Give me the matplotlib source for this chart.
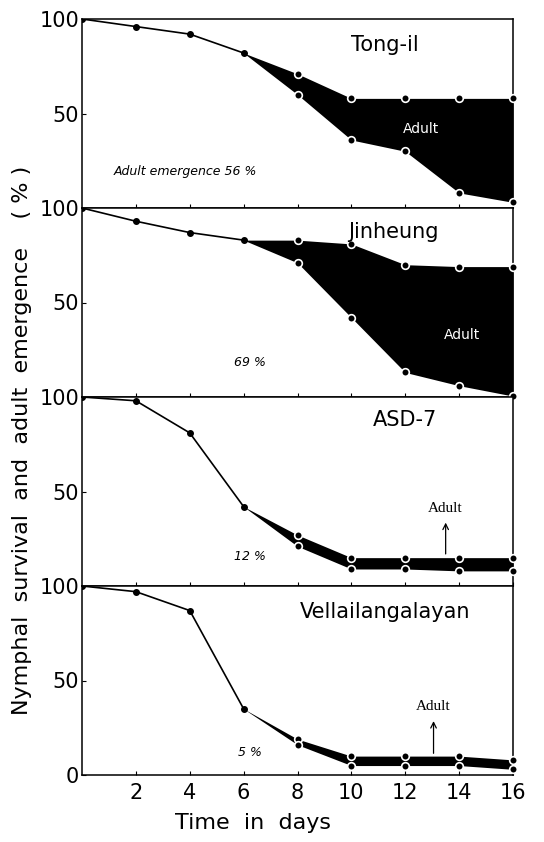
import numpy as np
from matplotlib import pyplot as plt

days = [0, 2, 4, 6, 8, 10, 12, 14, 16]
adult_days = [6, 8, 10, 12, 14, 16]

# survival (upper line) and remaining nymphs (lower line) per variety
tong_total = [100, 96, 92, 82, 71, 58, 58, 58, 58]
tong_nymph = [82, 60, 36, 30, 8, 3]

jin_total = [100, 93, 87, 83, 83, 81, 70, 69, 69]
jin_nymph = [83, 71, 42, 13, 6, 0.5]

asd_total = [100, 98, 81, 42, 27, 15, 15, 15, 15]
asd_nymph = [42, 21, 9, 9, 8, 8]

vel_total = [100, 97, 87, 35, 19, 10, 10, 10, 8]
vel_nymph = [35, 16, 5, 5, 5, 3]

names = ['Tong-il', 'Jinheung', 'ASD-7', 'Vellailangalayan']
emergence = ['Adult emergence 56 %', '69 %', '12 %', '5 %']
totals = [tong_total, jin_total, asd_total, vel_total]
nymphs = [tong_nymph, jin_nymph, asd_nymph, vel_nymph]

fig = plt.figure(figsize=(5.44, 8.42), dpi=100)

left, width = 82 / 544, 431 / 544
top_px, panel_px = 19, 189

name_pos = [(385, 45), (393, 232), (405, 420), (385, 612)]
pct_pos = [(185, 172), (250, 362), (250, 556), (250, 752)]
# arrow x, arrow base, arrow tip, label y (panels 3 and 4)
arrows = {2: (13.5, 15.5, 35, 41), 3: (13.05, 10, 30, 36)}

for i in range(4):
    bottom = 1 - (top_px + panel_px * (i + 1)) / 842
    ax = fig.add_axes([left, bottom, width, panel_px / 842])
    total = np.array(totals[i])
    nymph = np.array(nymphs[i])
    upper = total[3:]

    ax.fill_between(adult_days, upper, nymph, color='black', lw=0, zorder=2)
    ax.plot(days[:4], total[:4], color='black', lw=1.2, marker='o',
            ms=4, mfc='black', mec='black', zorder=3)
    ax.plot(adult_days[1:], upper[1:], ls='none', marker='o', ms=5.5,
            mfc='black', mec='white', mew=1.2, zorder=4, clip_on=False)
    ax.plot(adult_days[1:], nymph[1:], ls='none', marker='o', ms=5.5,
            mfc='black', mec='white', mew=1.2, zorder=4, clip_on=False)

    ax.set_xlim(0, 16)
    ax.set_ylim(0, 100)
    ax.set_yticks([0, 50, 100] if i == 3 else [50, 100])
    ax.set_yticklabels(['0', '50', '100'] if i == 3 else ['50', '100'])
    ax.set_xticks(range(2, 17, 2))
    ax.tick_params(axis='y', direction='in', length=3, labelsize=15, pad=2)
    ax.tick_params(axis='x', direction='in', length=3, labelsize=15, pad=6)
    if i < 3:
        ax.set_xticklabels([])
    for sp in ax.spines.values():
        sp.set_linewidth(1.1)

    fx, fy = name_pos[i]
    fig.text(fx / 544, 1 - fy / 842, names[i], fontsize=15,
             ha='center', va='center')
    px, py = pct_pos[i]
    fig.text(px / 544, 1 - py / 842, emergence[i], fontsize=9,
             style='italic', ha='center', va='center')

    if i == 0:
        ax.text(12.6, 42, 'Adult', color='white', fontsize=10,
                ha='center', va='center', zorder=5)
    elif i == 1:
        ax.text(14.1, 33, 'Adult', color='white', fontsize=10,
                ha='center', va='center', zorder=5)
    else:
        ax_x, base, tip, ty = arrows[i]
        ax.annotate('', xy=(ax_x, tip), xytext=(ax_x, base),
                    arrowprops=dict(arrowstyle='->', lw=0.9, color='black'),
                    zorder=5)
        ax.text(ax_x, ty, 'Adult', fontsize=11, family='Liberation Serif',
                ha='center', va='center', zorder=5)

fig.text(253 / 544, 1 - 823 / 842, 'Time  in  days', fontsize=16,
         ha='center', va='center')
fig.text(22 / 544, 1 - 440 / 842,
         'Nymphal  survival  and  adult  emergence    ( % )',
         rotation=90, fontsize=16, ha='center', va='center')

fig.savefig('out.png', dpi=100)
